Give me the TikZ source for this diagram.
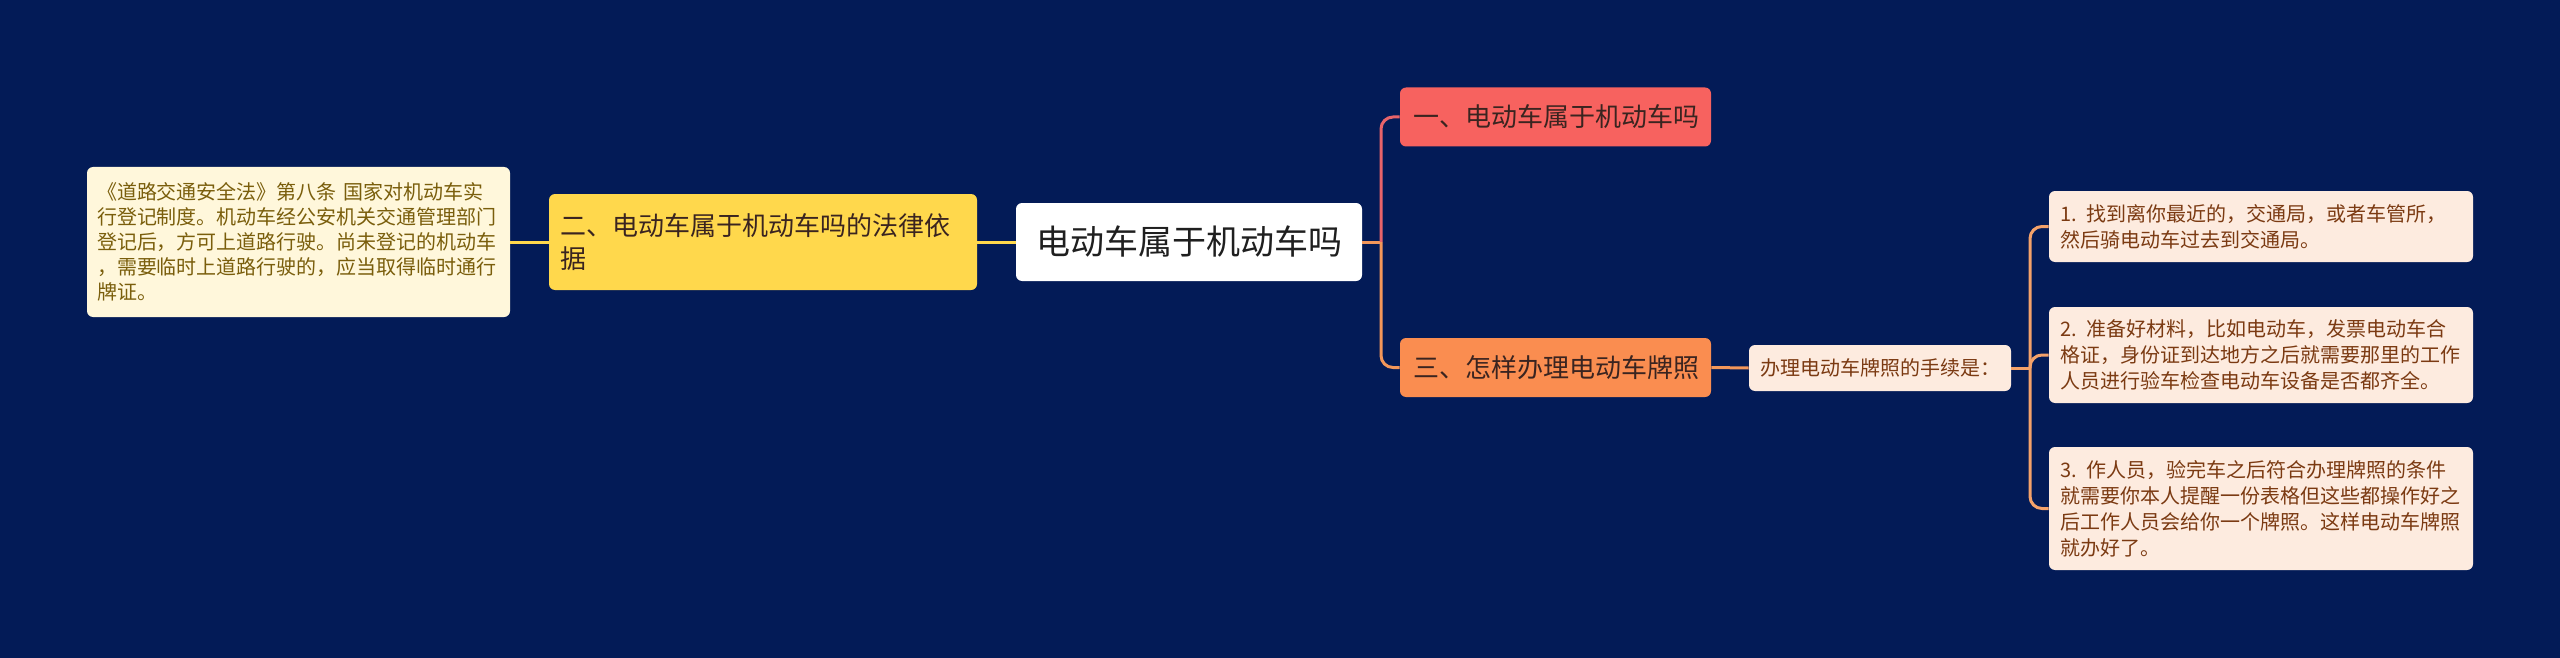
\documentclass[tikz,border=0pt]{standalone}
\usepackage{fontspec}
\setmainfont{Noto Sans CJK SC}
\usepackage{tikz}
\usetikzlibrary{calc}
\definecolor{mbg}{HTML}{031B57}
\definecolor{myellow}{HTML}{FFD84C}
\definecolor{mnote}{HTML}{FFF7DB}
\definecolor{mnotetx}{HTML}{7A5E0C}
\definecolor{mred}{HTML}{F7625F}
\definecolor{mredln}{HTML}{E8646A}
\definecolor{morange}{HTML}{FA8D50}
\definecolor{morangeln}{HTML}{F3975A}
\definecolor{mpeach}{HTML}{FDEBDF}
\definecolor{mpeachln}{HTML}{F4A26A}
\definecolor{mpeachtx}{HTML}{7B3A12}
\definecolor{mdark}{HTML}{3A2420}
\tikzset{
  rootbox/.style  = {fill=white, text=black!88, rounded corners=3pt,
                     minimum width=173pt, minimum height=39pt, inner sep=0pt,
                     font=\fontsize{17pt}{20pt}\selectfont},
  lawbox/.style   = {fill=myellow, text=mdark, rounded corners=3pt, align=left,
                     text width=203pt, inner xsep=5.5pt, inner ysep=0pt,
                     minimum height=48pt, font=\fontsize{13pt}{16.5pt}\selectfont},
  notebox/.style  = {fill=mnote, text=mnotetx, rounded corners=3pt, align=left,
                     text width=201.5pt, inner xsep=5pt, inner ysep=0pt,
                     minimum height=75pt, font=\fontsize{10pt}{12.5pt}\selectfont},
  qbox/.style     = {text=mdark, rounded corners=3pt, align=left,
                     text width=142.5pt, inner xsep=6.5pt, inner ysep=0pt,
                     minimum height=29.5pt, font=\fontsize{13pt}{16pt}\selectfont},
  procbox/.style  = {fill=mpeach, text=mpeachtx, rounded corners=3pt, align=left,
                     text width=120pt, inner xsep=5.5pt, inner ysep=0pt,
                     minimum height=23pt, font=\fontsize{10pt}{13pt}\selectfont},
  stepbox/.style  = {fill=mpeach, text=mpeachtx, rounded corners=3pt, align=left,
                     text width=201pt, inner xsep=5.5pt, inner ysep=0pt,
                     font=\fontsize{10pt}{13pt}\selectfont},
  lnyellow/.style = {draw=myellow, line width=1.5pt},
  lnred/.style    = {draw=mredln, line width=1.5pt, rounded corners=6pt},
  lnorange/.style = {draw=morangeln, line width=1.5pt, rounded corners=6pt},
  lnpeach/.style  = {draw=mpeachln, line width=1.5pt, rounded corners=6pt},
}

\begin{document}
\begin{tikzpicture}[x=0.5pt, y=-0.5pt]
  \fill[mbg] (0,0) rectangle (2560,658);
  \useasboundingbox (0,0) rectangle (2560,658);
  \node[rootbox] (root) at (1189,242) {电动车属于机动车吗};
  \node[lawbox] (law) at (763,242) {二、电动车属于机动车吗的法律依\\据};
  \node[notebox] (note) at (298.5,242) {《道路交通安全法》第八条 国家对机动车实\\行登记制度。机动车经公安机关交通管理部门\\登记后，方可上道路行驶。尚未登记的机动车\\，需要临时上道路行驶的，应当取得临时通行\\牌证。};
  \node[qbox, fill=mred] (q1) at (1555.5,117) {一、电动车属于机动车吗};
  \node[qbox, fill=morange] (q3) at (1555.5,367.5) {三、怎样办理电动车牌照};
  \node[procbox] (proc) at (1880,368) {办理电动车牌照的手续是：};
  \node[stepbox, minimum height=35.5pt] (s1) at (2261,226.5) {1. 找到离你最近的，交通局，或者车管所，\\然后骑电动车过去到交通局。};
  \node[stepbox, minimum height=48pt] (s2) at (2261,355) {2. 准备好材料，比如电动车，发票电动车合\\格证，身份证到达地方之后就需要那里的工作\\人员进行验车检查电动车设备是否都齐全。};
  \node[stepbox, minimum height=61.5pt] (s3) at (2261,508.5) {3. 作人员，验完车之后符合办理牌照的条件\\就需要你本人提醒一份表格但这些都操作好之\\后工作人员会给你一个牌照。这样电动车牌照\\就办好了。};
  \coordinate (jr) at (1381,242);
  \coordinate (jp) at (2030,368);
  \draw[lnyellow] (root.west) -- (law.east);
  \draw[lnyellow] (law.west) -- (note.east);
  \draw[lnorange] (root.east) -- (jr);
  \draw[lnred] (jr) |- (q1.west);
  \draw[lnorange] (jr) |- (q3.west);
  \draw[lnorange] (q3.east) -- (proc.west);
  \draw[lnpeach] (proc.east) -- (jp);
  \draw[lnpeach] (jp) |- (s1.west);
  \draw[lnpeach] (jp) |- (s2.west);
  \draw[lnpeach] (jp) |- (s3.west);
\end{tikzpicture}
\end{document}
